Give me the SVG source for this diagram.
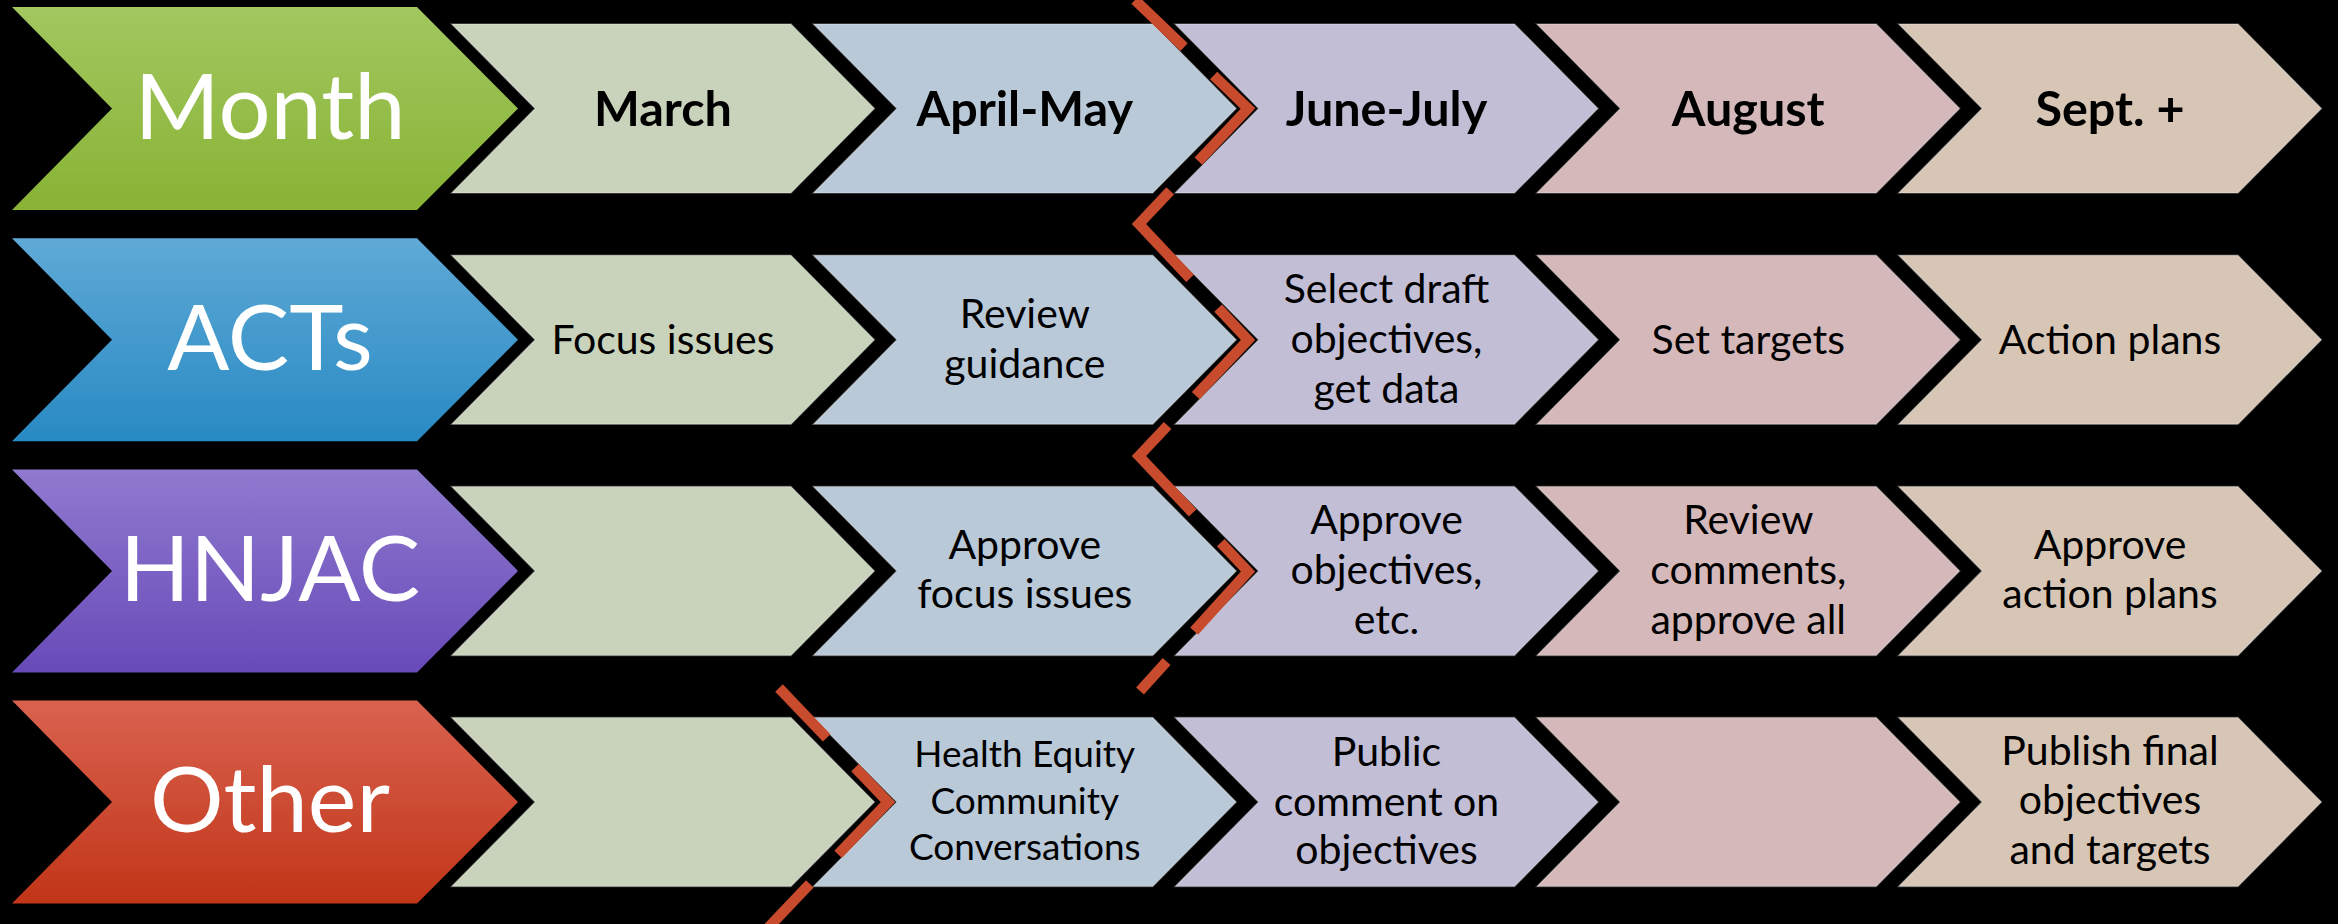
<svg xmlns="http://www.w3.org/2000/svg" xmlns:xlink="http://www.w3.org/1999/xlink" width="2338" height="924" viewBox="0 0 2338 924">
  <defs>
    <style>
      .tag-text{font-family:Lato,"Open Sans","Liberation Sans",sans-serif;font-size:92px;fill:#ffffff;text-anchor:middle}
      .head{font-family:Lato,"Open Sans","Liberation Sans",sans-serif;font-weight:700;font-size:48.5px;fill:#000000;text-anchor:middle}
      .body{font-family:Lato,"Open Sans","Liberation Sans",sans-serif;font-size:41px;fill:#000000;text-anchor:middle}
      .small{font-size:37px}
      .step{stroke:#ffffff;stroke-opacity:0.28;stroke-width:1.5}
      .m1{fill:#C9D3BC}
      .m2{fill:#BAC9D8}
      .m3{fill:#C1BED6}
      .m4{fill:#D5B8B9}
      .m5{fill:#D7C6B6}
      .cut{fill:none;stroke:#C94B2E;stroke-width:10.5;stroke-linejoin:miter;stroke-miterlimit:10;stroke-dasharray:120 41}
    </style>
    <linearGradient id="g-month" x1="0" y1="0" x2="0" y2="1">
      <stop offset="0" stop-color="#A2C760"/>
      <stop offset="1" stop-color="#88B334"/>
    </linearGradient>
    <linearGradient id="g-acts" x1="0" y1="0" x2="0" y2="1">
      <stop offset="0" stop-color="#5FA9D6"/>
      <stop offset="1" stop-color="#288AC3"/>
    </linearGradient>
    <linearGradient id="g-hnjac" x1="0" y1="0" x2="0" y2="1">
      <stop offset="0" stop-color="#8F7ACF"/>
      <stop offset="1" stop-color="#684AB8"/>
    </linearGradient>
    <linearGradient id="g-other" x1="0" y1="0" x2="0" y2="1">
      <stop offset="0" stop-color="#D9624F"/>
      <stop offset="1" stop-color="#C13518"/>
    </linearGradient>
    <!-- row heading chevron (203 tall) and step chevron (169 tall) -->
    <polygon id="tag" points="0,0 405,0 506,101.5 405,203 0,203 100,101.5"/>
    <polygon id="step" points="0,0 339.5,0 423,84.5 339.5,169 0,169 83.5,84.5"/>
  </defs>

  <rect width="2338" height="924" fill="#000000"/>

  <!-- Row 1: months -->
  <g id="row-month">
    <g id="tag-month">
      <use xlink:href="#tag" x="12" y="7" fill="url(#g-month)"/>
      <text class="tag-text" x="270" y="138.5">Month</text>
    </g>
    <g id="month-march">
      <use xlink:href="#step" x="451.5" y="24" class="step m1"/>
      <text class="head" x="663" y="125.5">March</text>
    </g>
    <g id="month-april-may">
      <use xlink:href="#step" x="813.25" y="24" class="step m2"/>
      <text class="head" x="1024.75" y="125.5">April-May</text>
    </g>
    <g id="month-june-july">
      <use xlink:href="#step" x="1175" y="24" class="step m3"/>
      <text class="head" x="1386.5" y="125.5">June-July</text>
    </g>
    <g id="month-august">
      <use xlink:href="#step" x="1536.75" y="24" class="step m4"/>
      <text class="head" x="1748.25" y="125.5">August</text>
    </g>
    <g id="month-sept">
      <use xlink:href="#step" x="1898.5" y="24" class="step m5"/>
      <text class="head" x="2110" y="125.5">Sept. +</text>
    </g>
  </g>

  <!-- Row 2: ACTs -->
  <g id="row-acts">
    <g id="tag-acts">
      <use xlink:href="#tag" x="12" y="238.2" fill="url(#g-acts)"/>
      <text class="tag-text" x="270" y="369.7">ACTs</text>
    </g>
    <g id="acts-march">
      <use xlink:href="#step" x="451.5" y="255.2" class="step m1"/>
      <text class="body" x="663" y="353.5">Focus issues</text>
    </g>
    <g id="acts-april-may">
      <use xlink:href="#step" x="813.25" y="255.2" class="step m2"/>
      <text class="body" x="1024.75"><tspan x="1024.75" y="327.5">Review</tspan><tspan x="1024.75" y="377.5">guidance</tspan></text>
    </g>
    <g id="acts-june-july">
      <use xlink:href="#step" x="1175" y="255.2" class="step m3"/>
      <text class="body" x="1386.5"><tspan x="1386.5" y="303">Select draft</tspan><tspan x="1386.5" y="353">objectives,</tspan><tspan x="1386.5" y="402.5">get data</tspan></text>
    </g>
    <g id="acts-august">
      <use xlink:href="#step" x="1536.75" y="255.2" class="step m4"/>
      <text class="body" x="1748.25" y="353.5">Set targets</text>
    </g>
    <g id="acts-sept">
      <use xlink:href="#step" x="1898.5" y="255.2" class="step m5"/>
      <text class="body" x="2110" y="353.5">Action plans</text>
    </g>
  </g>

  <!-- Row 3: HNJAC -->
  <g id="row-hnjac">
    <g id="tag-hnjac">
      <use xlink:href="#tag" x="12" y="469.4" fill="url(#g-hnjac)"/>
      <text class="tag-text" x="270" y="600.9">HNJAC</text>
    </g>
    <g id="hnjac-march">
      <use xlink:href="#step" x="451.5" y="486.4" class="step m1"/>
    </g>
    <g id="hnjac-april-may">
      <use xlink:href="#step" x="813.25" y="486.4" class="step m2"/>
      <text class="body" x="1024.75"><tspan x="1024.75" y="559">Approve</tspan><tspan x="1024.75" y="608">focus issues</tspan></text>
    </g>
    <g id="hnjac-june-july">
      <use xlink:href="#step" x="1175" y="486.4" class="step m3"/>
      <text class="body" x="1386.5"><tspan x="1386.5" y="534">Approve</tspan><tspan x="1386.5" y="584">objectives,</tspan><tspan x="1386.5" y="633.5">etc.</tspan></text>
    </g>
    <g id="hnjac-august">
      <use xlink:href="#step" x="1536.75" y="486.4" class="step m4"/>
      <text class="body" x="1748.25"><tspan x="1748.25" y="534">Review</tspan><tspan x="1748.25" y="584">comments,</tspan><tspan x="1748.25" y="633.5">approve all</tspan></text>
    </g>
    <g id="hnjac-sept">
      <use xlink:href="#step" x="1898.5" y="486.4" class="step m5"/>
      <text class="body" x="2110"><tspan x="2110" y="559">Approve</tspan><tspan x="2110" y="608">action plans</tspan></text>
    </g>
  </g>

  <!-- Row 4: Other -->
  <g id="row-other">
    <g id="tag-other">
      <use xlink:href="#tag" x="12" y="700.6" fill="url(#g-other)"/>
      <text class="tag-text" x="270" y="832.1">Other</text>
    </g>
    <g id="other-march">
      <use xlink:href="#step" x="451.5" y="717.6" class="step m1"/>
    </g>
    <g id="other-april-may">
      <use xlink:href="#step" x="813.25" y="717.6" class="step m2"/>
      <text class="body small" x="1024.75"><tspan x="1024.75" y="767">Health Equity</tspan><tspan x="1024.75" y="813.5">Community</tspan><tspan x="1024.75" y="859.5">Conversations</tspan></text>
    </g>
    <g id="other-june-july">
      <use xlink:href="#step" x="1175" y="717.6" class="step m3"/>
      <text class="body" x="1386.5"><tspan x="1386.5" y="765.5">Public</tspan><tspan x="1386.5" y="815.5">comment on</tspan><tspan x="1386.5" y="864">objectives</tspan></text>
    </g>
    <g id="other-august">
      <use xlink:href="#step" x="1536.75" y="717.6" class="step m4"/>
    </g>
    <g id="other-sept">
      <use xlink:href="#step" x="1898.5" y="717.6" class="step m5"/>
      <text class="body" x="2110"><tspan x="2110" y="764.5">Publish final</tspan><tspan x="2110" y="814">objectives</tspan><tspan x="2110" y="864">and targets</tspan></text>
    </g>
  </g>

  <!-- dashed "current point" zigzag lines -->
  <g id="connectors">
    <path class="cut" stroke-dashoffset="52" d="M1135,0 L1248,108.5 L1139,224 L1248,340 L1139,456 L1248,571.5 L1140,691"/>
    <path class="cut" stroke-dashoffset="51" d="M779,688 L888,802 L766,930"/>
  </g>
</svg>
